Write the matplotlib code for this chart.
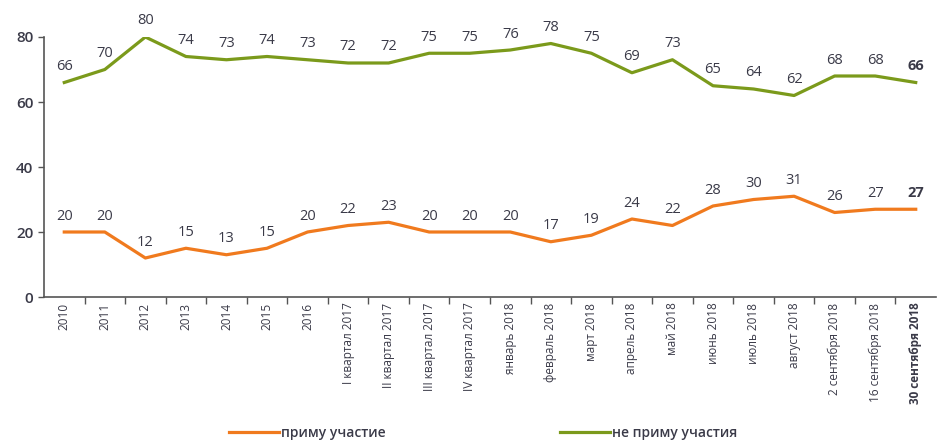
import matplotlib
matplotlib.use("Agg")
import matplotlib.pyplot as plt
import numpy as np

plt.rcParams['font.family'] = ['Open Sans', 'DejaVu Sans']

categories = ["2010", "2011", "2012", "2013", "2014", "2015", "2016",
              "I квартал 2017", "II квартал 2017", "III квартал 2017", "IV квартал 2017",
              "январь 2018", "февраль 2018", "март 2018", "апрель 2018", "май 2018",
              "июнь 2018", "июль 2018", "август 2018", "2 сентября 2018",
              "16 сентября 2018", "30 сентября 2018"]
will_vote = [20, 20, 12, 15, 13, 15, 20, 22, 23, 20, 20, 20, 17, 19, 24, 22, 28, 30, 31, 26, 27, 27]
wont_vote = [66, 70, 80, 74, 73, 74, 73, 72, 72, 75, 75, 76, 78, 75, 69, 73, 65, 64, 62, 68, 68, 66]
series_names = ["приму участие", "не приму участия"]

ORANGE = "#f07a1e"
GREEN = "#7b9a1b"
TEXT = "#3a3a48"

fig = plt.figure(figsize=(9.38, 4.44), dpi=100)
ax = fig.add_axes([44 / 938, 1 - 297 / 444, 892 / 938, 260 / 444])

x = np.arange(len(categories))
l1, = ax.plot(x, will_vote, color=ORANGE, lw=2.3, solid_joinstyle="round")
l2, = ax.plot(x, wont_vote, color=GREEN, lw=2.3, solid_joinstyle="round")

last = len(categories) - 1
for vals in (will_vote, wont_vote):
    for i, v in enumerate(vals):
        ax.annotate(str(v), (i, v), xytext=(0, 16), textcoords="offset pixels",
                    ha="center", va="center", fontsize=10.5, color=TEXT,
                    fontweight="bold" if i == last else "normal",
                    annotation_clip=False)

ax.set_xlim(-0.5, last + 0.5)
ax.set_ylim(0, 80)
ax.set_yticks([0, 20, 40, 60, 80])
ax.tick_params(axis="y", labelsize=11, labelcolor=TEXT, color="#555555", length=4, width=1)
for t in ax.get_yticklabels():
    t.set_fontweight("semibold")

ax.set_xticks(x)
ax.set_xticklabels(categories, rotation=90, fontsize=8.5, color=TEXT)
for i, t in enumerate(ax.get_xticklabels()):
    if i == last:
        t.set_fontweight("bold")
ax.tick_params(axis="x", which="major", length=0, pad=4)
ax.set_xticks(x[:-1] + 0.5, minor=True)
ax.tick_params(axis="x", which="minor", length=5, width=1, color="#555555")

for s in ("top", "right"):
    ax.spines[s].set_visible(False)
for s in ("left", "bottom"):
    ax.spines[s].set_color("#555555")
    ax.spines[s].set_linewidth(1.2)

fig.legend([l1, l2], series_names, loc="center", bbox_to_anchor=(0.515, 1 - 433 / 444),
           ncol=2, frameon=False, prop={"size": 10, "weight": "semibold"},
           handlelength=3.6, handletextpad=0.15, columnspacing=12.5, labelcolor=TEXT)

fig.savefig("out.png", dpi=100)
